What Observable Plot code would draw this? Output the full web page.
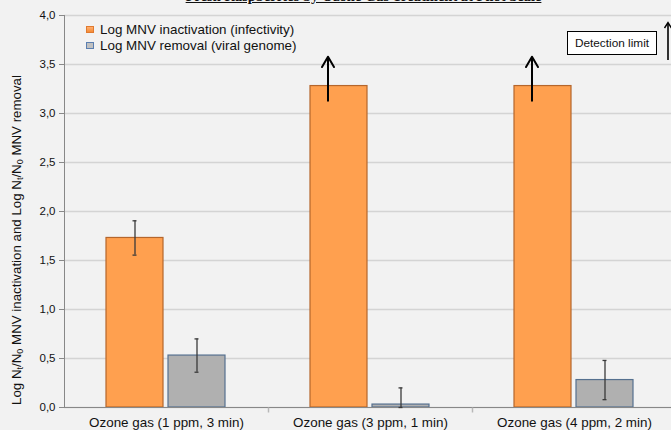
<!DOCTYPE html>
<html><head><meta charset="utf-8">
<script src="https://cdn.jsdelivr.net/npm/d3@7"></script>
<script src="https://cdn.jsdelivr.net/npm/@observablehq/plot@0.6"></script>
<style>
html,body{margin:0;padding:0;background:#f2f2f2;}
#wrap{position:relative;width:671px;height:430px;overflow:hidden;font-family:"Liberation Sans",Arial,sans-serif;color:#111;}
#title{position:absolute;top:-12px;left:140px;width:447px;text-align:center;font:bold 14.5px "Liberation Serif","Times New Roman",serif;text-decoration:underline;white-space:nowrap;}
#legend{position:absolute;left:86px;top:22px;font-size:13.4px;line-height:15.5px;}
#legend .row{display:flex;align-items:center;white-space:nowrap;}
#legend .sw{width:8px;height:7px;margin-right:6px;box-sizing:border-box;}
#ylab{position:absolute;left:17px;top:240px;transform:translate(-50%,-50%) rotate(-90deg);font-size:13.3px;white-space:nowrap;}
#ylab sub{font-size:9px;vertical-align:-2px;}
#det{position:absolute;left:567px;top:31px;width:90px;height:24px;box-sizing:border-box;border:1px solid #000;background:#fff;font-size:11.8px;display:flex;align-items:center;justify-content:center;}
#detArrow{position:absolute;left:660px;top:18px;}
#chart{position:absolute;left:0;top:0;}
</style></head>
<body>
<div id="wrap">
  <div id="chart"></div>
  <div id="title">Fresh Raspberries by Ozone Gas Treatment at Pilot Scale</div>
  <div id="legend"></div>
  <div id="ylab">Log N<sub>t</sub>/N<sub>0</sub> MNV inactivation and Log N<sub>t</sub>/N<sub>0</sub> MNV removal</div>
  <div id="det">Detection limit</div>
  <svg id="detArrow" width="16" height="46">
    <line x1="8" y1="42" x2="8" y2="5" stroke="#000" stroke-width="1.6"/>
    <path d="M4.5,10 L8,4.5 L11.5,10" fill="none" stroke="#000" stroke-width="1.4"/>
  </svg>
</div>
<script>
const categories = ["Ozone gas (1 ppm, 3 min)", "Ozone gas (3 ppm, 1 min)", "Ozone gas (4 ppm, 2 min)"];
const seriesNames = ["Log MNV inactivation (infectivity)", "Log MNV removal (viral genome)"];
const inactivation = [1.73, 3.28, 3.28];
const inactivationErr = [0.175, null, null];
const removal = [0.53, 0.03, 0.28];
const removalErr = [0.17, 0.17, 0.20];
const detectionLimitArrow = [null, [3.13, 3.58], [3.13, 3.58]];
const yTicks = [0, 0.5, 1, 1.5, 2, 2.5, 3, 3.5, 4];
const colors = {fill: ["#ffa04f", "#b0b0b0"], stroke: ["#b5662c", "#55708f"]};

const rows = [];
categories.forEach((c, i) => {
  rows.push({cat: c, series: seriesNames[0], value: inactivation[i], err: inactivationErr[i]});
  rows.push({cat: c, series: seriesNames[1], value: removal[i], err: removalErr[i]});
});
const errRows = rows.filter(d => d.err != null).map(d => ({...d, lo: Math.max(0, d.value - d.err), hi: d.value + d.err}));
const arrows = categories.map((c, i) => detectionLimitArrow[i] ? {cat: c, series: seriesNames[0], y1: detectionLimitArrow[i][0], y2: detectionLimitArrow[i][1]} : null).filter(Boolean);

const fmt = v => d3.format(".1f")(v).replace(".", ",");
const tickSym = {draw(ctx) { ctx.moveTo(0, 0); ctx.lineTo(0, 5); }};

const plot = Plot.plot({
  width: 671, height: 430,
  marginTop: 15, marginBottom: 23, marginLeft: 64, marginRight: -5,
  style: {background: "transparent", fontFamily: "'Liberation Sans', Arial, sans-serif", fontSize: "12px", color: "#111"},
  fx: {domain: categories, padding: 0, label: null},
  x: {domain: seriesNames, paddingInner: 0.08, paddingOuter: 0.67, axis: null},
  y: {domain: [0, 4], label: null},
  color: {domain: seriesNames, range: colors.fill},
  marks: [
    Plot.gridY(yTicks, {stroke: "#d4d4d4", strokeOpacity: 1, strokeWidth: 1.5}),
    Plot.axisY(yTicks, {tickFormat: fmt, tickSize: 5, tickPadding: 4, fontSize: 11.5, stroke: "#888", label: null}),
    Plot.frame({anchor: "left", facetAnchor: "left", stroke: "#888"}),
    Plot.barY(rows, {fx: "cat", x: "series", y: "value", fill: "series",
      stroke: d => d.series === seriesNames[0] ? colors.stroke[0] : colors.stroke[1], strokeWidth: 1.2}),
    Plot.barY(rows.filter(d => d.series === seriesNames[1]), {fx: "cat", x: "series", y1: 0, y2: 0, stroke: "#4f81bd", strokeWidth: 3}),
    Plot.ruleY([0], {stroke: "#888"}),
    Plot.dot(categories.slice(0, -1), {fx: d => d, frameAnchor: "bottom-right", symbol: tickSym, stroke: "#b8b8b8", fill: "none"}),
    Plot.ruleX(errRows, {fx: "cat", x: "series", y1: "lo", y2: "hi", stroke: "#3a3a3a", strokeWidth: 1.3}),
    Plot.tickY(errRows.flatMap(d => [{...d, v: d.lo}, {...d, v: d.hi}]), {fx: "cat", x: "series", y: "v", stroke: "#3a3a3a", strokeWidth: 1.3, insetLeft: 26.5, insetRight: 26.5}),
    Plot.arrow(arrows, {fx: "cat", x: "series", y1: "y1", y2: "y2", dx: -11, stroke: "#000", strokeWidth: 2, headLength: 9, headAngle: 60}),
    Plot.axisFx({anchor: "bottom", tickSize: 0, tickPadding: 10, fontSize: 13.4, label: null})
  ]
});
document.getElementById("chart").appendChild(plot);

const leg = document.getElementById("legend");
const swStyles = [
  "background:linear-gradient(#ffb070,#f58a35);border:1px solid #e07a30;",
  "background:#c0c0c0;border:1.5px solid #5b7fb0;"
];
seriesNames.forEach((s, i) => {
  const r = document.createElement("div");
  r.className = "row";
  r.innerHTML = `<span class="sw" style="${swStyles[i]}"></span><span>${s}</span>`;
  leg.appendChild(r);
});
</script>
</body></html>
